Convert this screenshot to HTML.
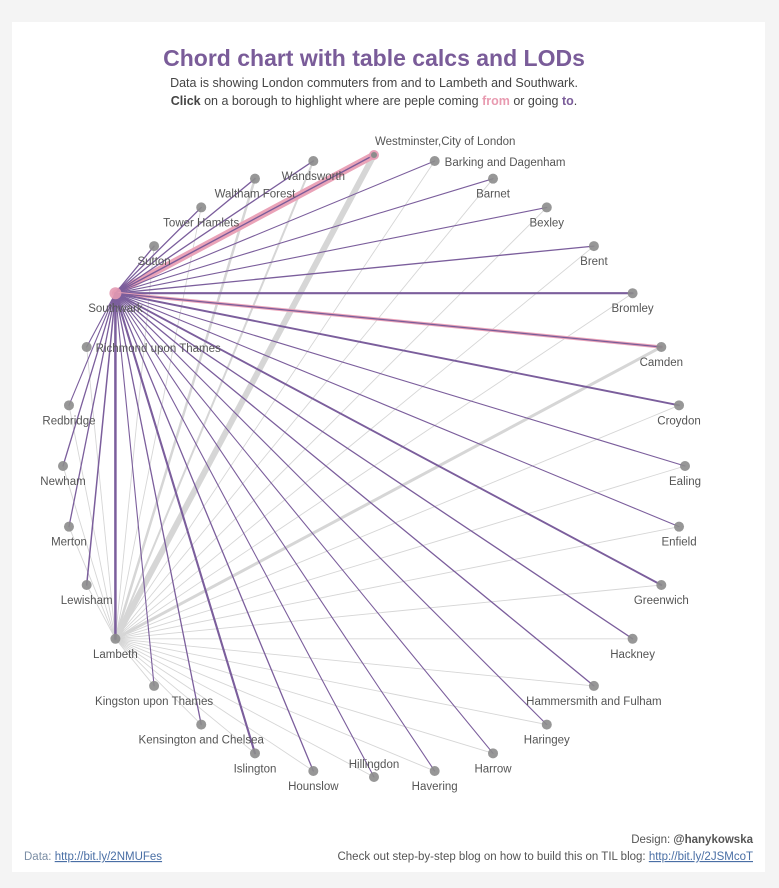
<!DOCTYPE html>
<html><head><meta charset="utf-8">
<style>
body{margin:0;background:#f4f4f4;font-family:"Liberation Sans",sans-serif;}
#card{position:absolute;left:12px;top:22px;width:753px;height:850px;background:#fff;}
svg{position:absolute;left:0;top:0;}
.lbl{font-size:11.5px;fill:#555;}
</style></head>
<body>
<div id="card"></div>
<svg id="chart" width="779" height="888">
<text x="374" y="66" text-anchor="middle" font-size="23" font-weight="bold" fill="#7a5c99">Chord chart with table calcs and LODs</text>
<text x="374" y="87" text-anchor="middle" font-size="12.5" fill="#444">Data is showing London commuters from and to Lambeth and Southwark.</text>
<text x="374" y="105" text-anchor="middle" font-size="12.5" fill="#444"><tspan font-weight="bold">Click</tspan> on a borough to highlight where are peple coming <tspan font-weight="bold" fill="#e89ab0">from</tspan> or going <tspan font-weight="bold" fill="#7a5c99">to</tspan>.</text>
<g id="lines"></g><g id="nodes"></g>
<text x="753" y="843" text-anchor="end" font-size="11.5" fill="#555">Design: <tspan font-weight="bold">@hanykowska</tspan></text>
<text x="753" y="860" text-anchor="end" font-size="11.5" fill="#555">Check out step-by-step blog on how to build this on TIL blog: <tspan fill="#4a6fa5" text-decoration="underline">http://bit.ly/2JSMcoT</tspan></text>
<text x="24" y="860" font-size="11.5" fill="#7b8ea5">Data: <tspan text-decoration="underline" fill="#4a6fa5">http://bit.ly/2NMUFes</tspan></text>
</svg>
<script>
const boroughs=["Westminster,City of London","Barking and Dagenham","Barnet","Bexley","Brent","Bromley","Camden","Croydon","Ealing","Enfield","Greenwich","Hackney","Hammersmith and Fulham","Haringey","Harrow","Havering","Hillingdon","Hounslow","Islington","Kensington and Chelsea","Kingston upon Thames","Lambeth","Lewisham","Merton","Newham","Redbridge","Richmond upon Thames","Southwark","Sutton","Tower Hamlets","Waltham Forest","Wandsworth"];
// flows (thousands) from Southwark / Lambeth to each borough
const southwarkFlows=[7,1.1,1.1,1.1,1.3,2.1,1.7,1.9,1.1,1.1,1.9,1.3,1.3,1.1,1.1,1.1,1.1,1.3,2.1,1.3,1.1,2.5,1.5,1.3,1.3,1.1,1.1,0,1.3,1.3,1.3,1.3];
const lambethFlows=[6,0.9,0.9,0.9,0.9,0.9,3,0.9,0.9,0.9,0.9,0.9,0.9,0.9,0.9,0.9,0.9,0.9,0.9,0.9,0.9,0,0.9,0.9,0.9,0.9,0.9,2,0.9,0.9,2.5,2];
const highlighted=["Westminster,City of London","Camden"];
const cx=374,cy=466,R=311;
const NS="http://www.w3.org/2000/svg";
function pos(i){const a=-Math.PI/2+i*2*Math.PI/boroughs.length;return [cx+R*Math.cos(a),cy+R*Math.sin(a)];}
function w(v){return v;}
const L=document.getElementById('lines'),N=document.getElementById('nodes');
const si=boroughs.indexOf("Southwark"),li=boroughs.indexOf("Lambeth");
function line(a,b,v,col,name){const p=pos(a),q=pos(b);const l=document.createElementNS(NS,'line');
l.setAttribute('x1',p[0]);l.setAttribute('y1',p[1]);l.setAttribute('x2',q[0]);l.setAttribute('y2',q[1]);
l.setAttribute('stroke',col);l.setAttribute('stroke-width',w(v));l.setAttribute('stroke-linecap','round');


L.appendChild(l);return l;}
lambethFlows.forEach((v,i)=>{if(v>0&&i!==si)line(li,i,v,'#d6d6d6','lambeth-chord');});
southwarkFlows.forEach((v,i)=>{if(v<=0)return;
 if(highlighted.includes(boroughs[i])){line(si,i,v+(i===0?0:1.5),'#eaa3b8','highlight-chord');line(si,i,i===0?1.4:1.2,'#7a5c99','southwark-chord');}
 else line(si,i,v,'#7b5e9c','southwark-chord');});
boroughs.forEach((b,i)=>{const p=pos(i);const c=document.createElementNS(NS,'circle');
 c.setAttribute('cx',p[0]);c.setAttribute('cy',p[1]);c.setAttribute('r',i===si?6:5);
 c.setAttribute('fill',i===si||i===0?'#e39ab2':'#8c8c8c');c.setAttribute('opacity','0.9');
 
 
 N.appendChild(c);
 if(i===0){const d=document.createElementNS(NS,'circle');d.setAttribute('cx',p[0]);d.setAttribute('cy',p[1]);d.setAttribute('r',3);d.setAttribute('fill','#8c8c8c');N.appendChild(d);}
 const t=document.createElementNS(NS,'text');t.textContent=b;t.setAttribute('class','lbl');
 let x=p[0],y=p[1]+19,anc='middle';
 if(b.startsWith('Westminster')){x=p[0]+1;y=p[1]-10;anc='start';}
 else if(b==='Barking and Dagenham'){x=p[0]+10;y=p[1]+5;anc='start';}
 else if(b==='Richmond upon Thames'){x=p[0]+9;y=p[1]+5;anc='start';}
 else if(b==='Hillingdon'){y=p[1]-9;}
 t.setAttribute('x',x);t.setAttribute('y',y);t.setAttribute('text-anchor',anc);
 
 
 N.appendChild(t);});
</script>
</body></html>
